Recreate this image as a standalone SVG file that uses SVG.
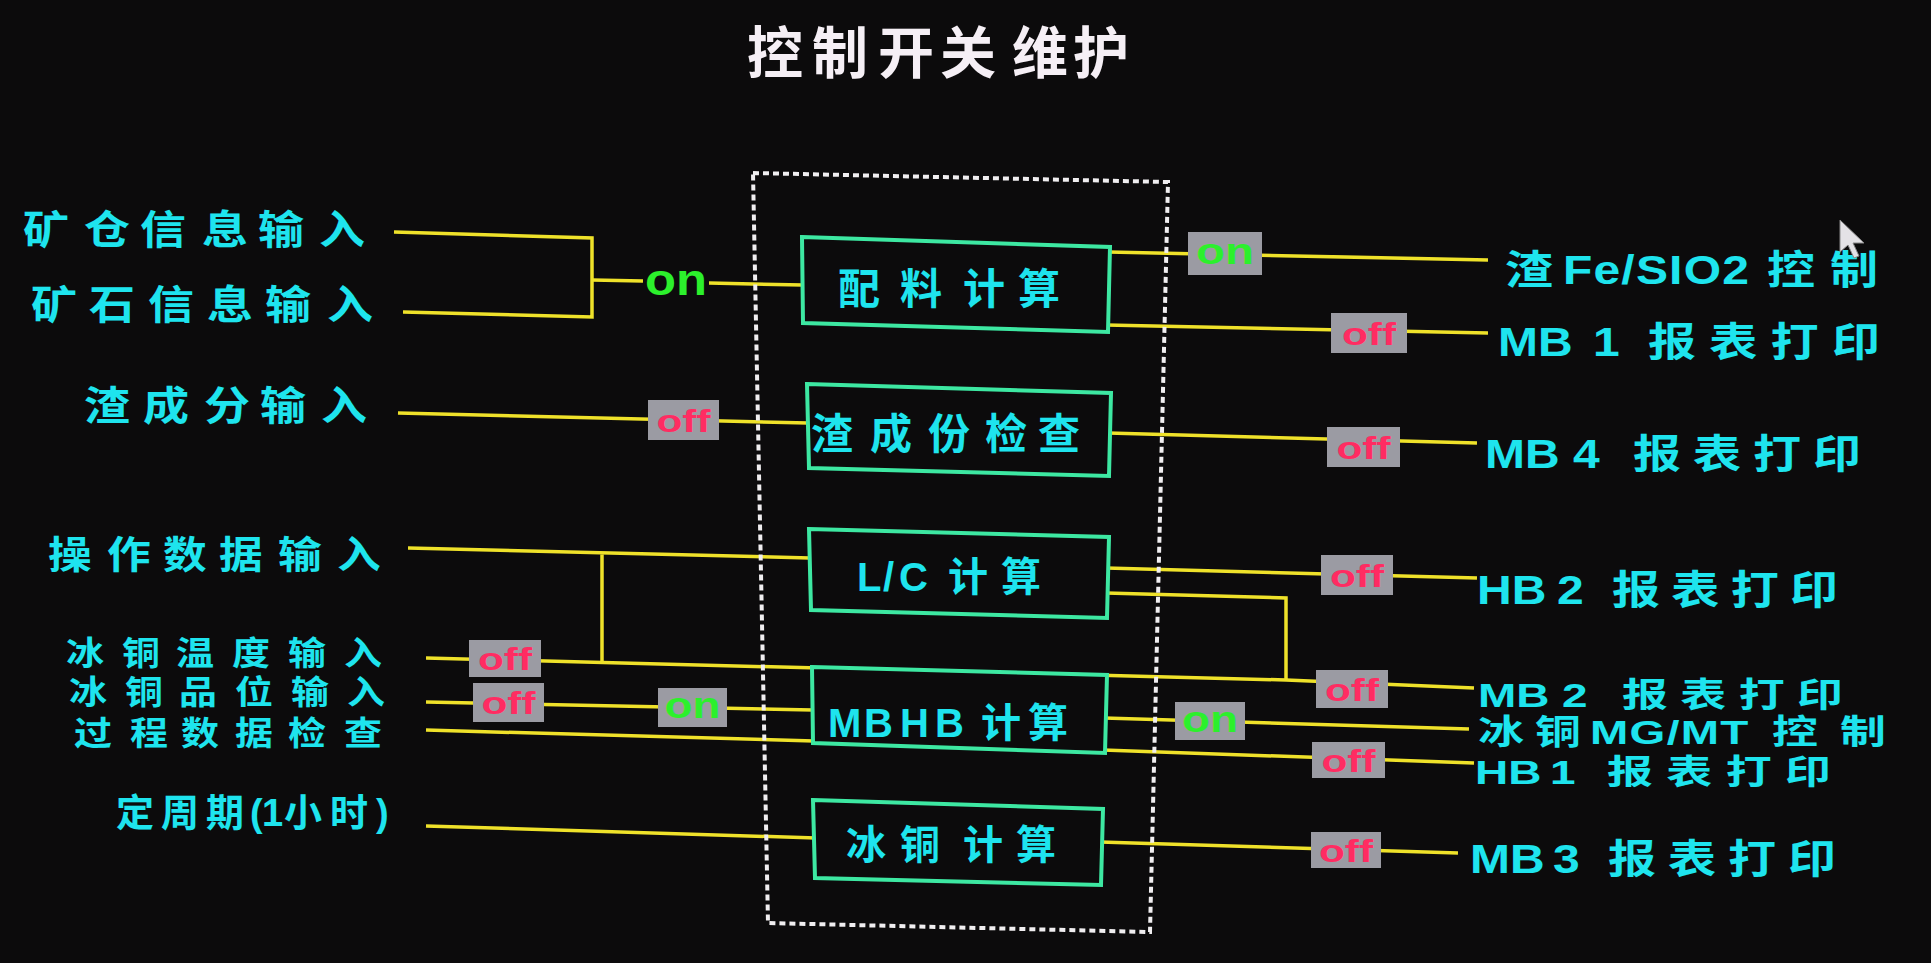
<svg xmlns="http://www.w3.org/2000/svg" width="1931" height="963" viewBox="0 0 1931 963">
<style>
.bg{fill:#0c0b0c}
.wire{stroke:#efe22a;stroke-width:3.5;fill:none}
.box{fill:#0c0b0c;stroke:#3de8a2;stroke-width:4}
.frame{fill:none;stroke:#f0eef0;stroke-width:4;stroke-dasharray:6 4}
.lbl{font-family:"Noto Sans CJK SC","Noto Sans CJK JP",sans-serif;font-weight:bold;fill:#1ee4ee}
.lat{font-family:"Liberation Sans","Noto Sans CJK SC",sans-serif;font-weight:bold}
.badge{fill:#9b9ba3}
.off{font-family:"Liberation Sans",sans-serif;font-weight:bold;fill:#ff2c62;font-size:32px;text-anchor:middle}
.on{font-family:"Liberation Sans",sans-serif;font-weight:bold;fill:#2cf02c;font-size:36px;text-anchor:middle}
.title{font-family:"Noto Sans CJK SC",sans-serif;font-weight:bold;fill:#f5eff5;font-size:56px}
</style>
<rect class="bg" x="0" y="0" width="1931" height="963"/>

<text id="title" class="title" x="747 812 878 940 1012 1073" y="73">控制开关维护</text>

<g id="connectors">
  <path class="wire" d="M394,232 L592,238 L592,317 L403,312"/>
  <path class="wire" d="M592,280 L643,281 M709,283 L803,285"/>
  <path class="wire" d="M398,413 L808,423"/>
  <path class="wire" d="M408,548 L810,558 M602,553 L602,664"/>
  <path class="wire" d="M426,658 L1286,680 L1474,688"/>
  <path class="wire" d="M1106,593 L1286,598 L1286,681"/>
  <path class="wire" d="M426,702 L813,710"/>
  <path class="wire" d="M426,730 L814,741"/>
  <path class="wire" d="M426,826 L816,838"/>
  <path class="wire" d="M1108,252 L1488,260"/>
  <path class="wire" d="M1106,325 L1488,333"/>
  <path class="wire" d="M1108,433 L1477,443"/>
  <path class="wire" d="M1106,568 L1477,578"/>
  <path class="wire" d="M1104,718 L1469,729"/>
  <path class="wire" d="M1103,750 L1474,763"/>
  <path class="wire" d="M1100,842 L1458,853"/>

  <text class="on" x="676" y="295" style="font-size:44px" textLength="62" lengthAdjust="spacingAndGlyphs">on</text>

  <rect class="badge" x="1188" y="232" width="74" height="43"/>
  <text class="on" x="1225" y="264" textLength="58" lengthAdjust="spacingAndGlyphs">on</text>
  <rect class="badge" x="1331" y="313" width="76" height="40"/>
  <text class="off" x="1369" y="345" textLength="54" lengthAdjust="spacingAndGlyphs">off</text>
  <rect class="badge" x="648" y="400" width="71" height="40"/>
  <text class="off" x="683.5" y="432" textLength="54" lengthAdjust="spacingAndGlyphs">off</text>
  <rect class="badge" x="1327" y="427" width="73" height="40"/>
  <text class="off" x="1363.5" y="459" textLength="54" lengthAdjust="spacingAndGlyphs">off</text>
  <rect class="badge" x="469" y="640" width="72" height="37"/>
  <text class="off" x="505" y="670" textLength="54" lengthAdjust="spacingAndGlyphs">off</text>
  <rect class="badge" x="473" y="683" width="71" height="39"/>
  <text class="off" x="508.5" y="714" textLength="54" lengthAdjust="spacingAndGlyphs">off</text>
  <rect class="badge" x="658" y="688" width="69" height="39"/>
  <text class="on" x="692.5" y="718" textLength="56" lengthAdjust="spacingAndGlyphs">on</text>
  <rect class="badge" x="1321" y="555" width="72" height="40"/>
  <text class="off" x="1357" y="587" textLength="54" lengthAdjust="spacingAndGlyphs">off</text>
  <rect class="badge" x="1316" y="670" width="72" height="38"/>
  <text class="off" x="1352" y="701" textLength="54" lengthAdjust="spacingAndGlyphs">off</text>
  <rect class="badge" x="1175" y="702" width="70" height="38"/>
  <text class="on" x="1210" y="732" textLength="56" lengthAdjust="spacingAndGlyphs">on</text>
  <rect class="badge" x="1312" y="742" width="73" height="36"/>
  <text class="off" x="1348.5" y="772" textLength="54" lengthAdjust="spacingAndGlyphs">off</text>
  <rect class="badge" x="1311" y="832" width="70" height="36"/>
  <text class="off" x="1346" y="862" textLength="54" lengthAdjust="spacingAndGlyphs">off</text>
</g>

<g id="frame">
  <path class="frame" d="M753,173 L1168,182 L1150,932 L768,923 Z"/>
</g>

<g id="node-peiliao">
  <path class="box" d="M802,237 L1110,247 L1108,332 L803,323 Z"/>
  <text class="lbl" font-size="42" x="838 900 963 1018" y="304">配料计算</text>
</g>
<g id="node-zhachengfen">
  <path class="box" d="M807,384 L1111,393 L1109,476 L809,468 Z"/>
  <text class="lbl" font-size="42" x="811 870 928 985 1038" y="449">渣成份检查</text>
</g>
<g id="node-lc">
  <path class="box" d="M809,529 L1109,537 L1107,618 L811,610 Z"/>
  <text class="lbl" font-size="40" y="591"><tspan class="lat" x="857 883 899">L/C</tspan> <tspan x="948 1001">计算</tspan></text>
</g>
<g id="node-mbhb">
  <path class="box" d="M812,667 L1107,675 L1105,753 L813,743 Z"/>
  <text class="lbl" font-size="40" y="737"><tspan class="lat" x="828 864 900 935">MBHB</tspan> <tspan x="981 1028">计算</tspan></text>
</g>
<g id="node-bingtong">
  <path class="box" d="M813,800 L1103,809 L1101,885 L815,878 Z"/>
  <text class="lbl" font-size="40" x="846 900 963 1016" y="859">冰铜计算</text>
</g>

<g id="in-kuangcang"><text class="lbl" font-size="40" transform="matrix(1.15 0 0 1 -3.45 0)" x="23 76 124.7 178.7 227.3 280.4" y="244">矿仓信息输入</text></g>
<g id="in-kuangshi"><text class="lbl" font-size="40" transform="matrix(1.15 0 0 1 -4.65 0)" x="31 81.4 132.7 184 234.5 288.4" y="319">矿石信息输入</text></g>
<g id="in-zhachengfen"><text class="lbl" font-size="40" transform="matrix(1.15 0 0 1 -12.6 0)" x="84 135.3 188.3 237 290.1" y="420">渣成分输入</text></g>
<g id="in-caozuo"><text class="lbl" font-size="38" transform="matrix(1.15 0 0 1 -7.2 0)" x="48 99.3 148 196.7 248 299.3" y="568">操作数据输入</text></g>
<g id="in-wendu"><text class="lbl" font-size="33" transform="matrix(1.15 0 0 1 -9.9 0)" x="66 114.7 161.7 210.3 259 307.7" y="665">冰铜温度输入</text></g>
<g id="in-pinwei"><text class="lbl" font-size="33" transform="matrix(1.15 0 0 1 -10.35 0)" x="69 117.7 164.7 213.3 262 310.7" y="704">冰铜品位输入</text></g>
<g id="in-guocheng"><text class="lbl" font-size="33" transform="matrix(1.15 0 0 1 -11.1 0)" x="74 122.7 167 214 260.1 308.8" y="745">过程数据检查</text></g>
<g id="in-dingzhouqi"><text class="lbl" font-size="38" y="826"><tspan x="116 161 206">定周期</tspan><tspan class="lat" x="250 262">(1</tspan><tspan x="284 330">小时</tspan><tspan class="lat" x="376">)</tspan></text></g>

<g id="out-fesio2"><text class="lbl" font-size="40" transform="matrix(1.2 0 0 1 -301 0)" y="284"><tspan x="1505">渣</tspan> <tspan class="lat" x="1553.3" letter-spacing="1">Fe/SIO2</tspan> <tspan x="1723.3 1775.8">控制</tspan></text></g>
<g id="out-mb1"><text class="lbl" font-size="40" transform="matrix(1.2 0 0 1 -299.6 0)" y="356"><tspan class="lat" x="1498">MB</tspan> <tspan class="lat" x="1577.2">1</tspan> <tspan x="1623 1674.1 1725.2 1776.3">报表打印</tspan></text></g>
<g id="out-mb4"><text class="lbl" font-size="40" transform="matrix(1.2 0 0 1 -297 0)" y="468"><tspan class="lat" x="1485">MB</tspan> <tspan class="lat" x="1558.3">4</tspan> <tspan x="1608.3 1658.3 1708.3 1758.3">报表打印</tspan></text></g>
<g id="out-hb2"><text class="lbl" font-size="40" transform="matrix(1.2 0 0 1 -295.4 0)" y="604"><tspan class="lat" x="1477">HB</tspan> <tspan class="lat" x="1543.7">2</tspan> <tspan x="1589.5 1638.9 1688.4 1737.8">报表打印</tspan></text></g>
<g id="out-mb2"><text class="lbl" font-size="34" transform="matrix(1.35 0 0 1 -517.3 0)" y="707"><tspan class="lat" x="1478">MB</tspan> <tspan class="lat" x="1540.2">2</tspan> <tspan x="1584.7 1627.9 1671.1 1714.3">报表打印</tspan></text></g>
<g id="out-mgmt"><text class="lbl" font-size="34" transform="matrix(1.35 0 0 1 -517.3 0)" y="744"><tspan x="1478 1520.2">冰铜</tspan><tspan class="lat" x="1561" letter-spacing="1">MG/MT</tspan> <tspan x="1695.8 1746.1">控制</tspan></text></g>
<g id="out-hb1"><text class="lbl" font-size="34" transform="matrix(1.35 0 0 1 -516.25 0)" y="784"><tspan class="lat" x="1475">HB</tspan> <tspan class="lat" x="1530.6">1</tspan> <tspan x="1572.8 1616.7 1660.7 1704.6">报表打印</tspan></text></g>
<g id="out-mb3"><text class="lbl" font-size="40" transform="matrix(1.2 0 0 1 -294 0)" y="873"><tspan class="lat" x="1470">MB</tspan> <tspan class="lat" x="1539.2">3</tspan> <tspan x="1585 1635 1685 1735">报表打印</tspan></text></g>

<path d="M1840,220 L1840,252 L1848,245 L1854,258 L1859,256 L1853,243 L1864,243 Z" fill="#e4e2e6" stroke="#888" stroke-width="1"/>
</svg>
